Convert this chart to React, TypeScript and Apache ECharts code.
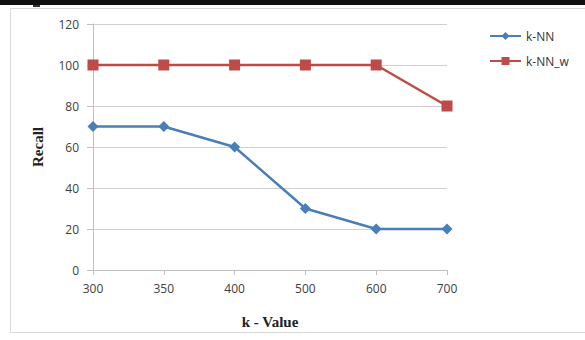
import React, { useEffect, useRef } from "react";
import * as echarts from "echarts";

const categories = ["300", "350", "400", "500", "600", "700"];
const knn = [70, 70, 60, 30, 20, 20];
const knnW = [100, 100, 100, 100, 100, 80];

export default function App() {
  const ref = useRef<HTMLDivElement>(null);
  useEffect(() => {
    const chart = echarts.init(ref.current!, null, { renderer: "svg" });
    const labelFont = "'Open Sans', 'Noto Sans', sans-serif";
    chart.setOption({
      animation: false,
      backgroundColor: "#ffffff",
      graphic: [
        { type: "rect", shape: { x: 0, y: 0, width: 585, height: 5 }, style: { fill: "#111" } },
        { type: "rect", shape: { x: 10.5, y: 8.5, width: 580, height: 324 }, style: { fill: "none", stroke: "#d9d9d9", lineWidth: 1 } },
        { type: "rect", shape: { x: 33, y: 5, width: 7, height: 2 }, style: { fill: "#333" } },
      ],
      grid: { left: 93, right: 138, top: 24, bottom: 70 },
      legend: {
        orient: "vertical",
        left: 484,
        top: 25,
        itemGap: 13,
        itemWidth: 31,
        itemHeight: 10,
        textStyle: { fontFamily: labelFont, fontSize: 12, color: "#333" },
        data: ["k-NN", "k-NN_w"],
      },
      xAxis: {
        type: "category",
        data: categories,
        boundaryGap: false,
        name: "k - Value",
        nameLocation: "middle",
        nameGap: 44,
        nameTextStyle: { fontFamily: "'Liberation Serif', serif", fontWeight: "bold", fontSize: 15, color: "#222" },
        axisLine: { lineStyle: { color: "#bfbfbf", width: 1 } },
        axisTick: { show: true, length: 5, lineStyle: { color: "#bfbfbf" } },
        axisLabel: { fontFamily: labelFont, fontSize: 12, color: "#404040", margin: 12 },
        splitLine: { show: false },
      },
      yAxis: {
        type: "value",
        min: 0,
        max: 120,
        interval: 20,
        name: "Recall",
        nameLocation: "middle",
        nameGap: 48,
        nameTextStyle: { fontFamily: "'Liberation Serif', serif", fontWeight: "bold", fontSize: 15, color: "#222" },
        axisLine: { show: true, lineStyle: { color: "#bfbfbf", width: 1 } },
        axisTick: { show: true, length: 6, lineStyle: { color: "#bfbfbf" } },
        axisLabel: { fontFamily: labelFont, fontSize: 12, color: "#404040", margin: 14 },
        splitLine: { show: true, lineStyle: { color: "#d0d0d0", width: 1 } },
      },
      series: [
        {
          name: "k-NN",
          type: "line",
          data: knn,
          symbol: "diamond",
          symbolSize: 11,
          lineStyle: { color: "#4a7ebb", width: 2.5 },
          itemStyle: { color: "#4a7ebb" },
        },
        {
          name: "k-NN_w",
          type: "line",
          data: knnW,
          symbol: "rect",
          symbolSize: 11,
          lineStyle: { color: "#be4b48", width: 2.5 },
          itemStyle: { color: "#be4b48" },
        },
      ],
    });
    return () => chart.dispose();
  }, []);
  return <div ref={ref} style={{ position: "fixed", left: 0, top: 0, width: 585, height: 340 }} />;
}
